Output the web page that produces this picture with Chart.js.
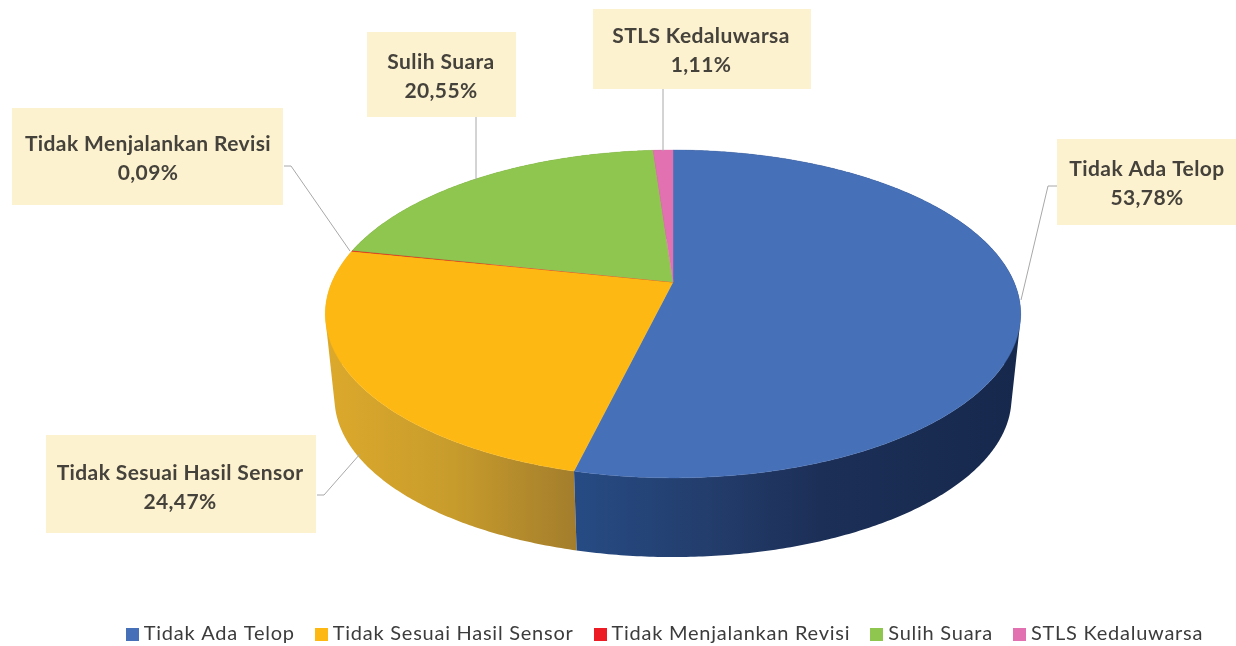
<!DOCTYPE html>
<html>
<head>
<meta charset="utf-8">
<style>html,body{margin:0;padding:0;background:#fff}canvas{display:block}</style>
<script src="https://cdn.jsdelivr.net/npm/chart.js@4/dist/chart.umd.min.js"></script>
</head>
<body>
<canvas id="c" width="1236" height="646"></canvas>
<script>
const categories = ["Tidak Ada Telop","Tidak Sesuai Hasil Sensor","Tidak Menjalankan Revisi","Sulih Suara","STLS Kedaluwarsa"];
const values = [53.78,24.47,0.09,20.55,1.11];
const valueLabels = ["53,78%","24,47%","0,09%","20,55%","1,11%"];
const colors = ["#4670b7","#fdb813","#ed1c24","#8fc64f","#e271b2"];

// callout layout: box [x0,y0,x1,y1], text centre, leader polyline
const callouts = [
  {box:[1057,139,1236,225],tx:1147,ty:[169,198],line:[[1057,186],[1048,186],[1021,300]]},
  {box:[46,435,316,533],tx:180,ty:[473,502],line:[[317,495],[324,495],[360,454]]},
  {box:[12,108,283,205],tx:148,ty:[144,173],line:[[284,166],[291,166],[350,251]]},
  {box:[367,32,516,117],tx:441,ty:[62,91],line:[[476,117],[476,180]]},
  {box:[593,9,811,89],tx:701,ty:[36,65],line:[[663,89],[663,151]]}
];
const wallStops = [
  [[0,"#264b84"],[0.3,"#233d6c"],[0.55,"#1c2f57"],[1,"#16284c"]],
  [[0,"#dca92b"],[0.5,"#c89c2c"],[1,"#a37d2c"]],
  [[0,"#a01218"],[1,"#a01218"]],
  [[0,"#5f8535"],[1,"#5f8535"]],
  [[0,"#974b77"],[1,"#974b77"]]
];
// perspective of the tilted disc
const K = 0.195, TOP = {b:341,a:157.7,dy:0}, LOW = {b:332,a:153,dy:85};
const LEGEND_DY=72, LEGEND_DX=-61;
function proj(arc, ang, d){
  const u=Math.cos(ang), v=Math.sin(ang), w=1-K*v;
  return [arc.x + d.b*u/w, arc.y + d.dy + d.a*v/w];
}
function arcPts(arc, s, e, d){
  const n=Math.max(2,Math.ceil((e-s)/0.01)), p=[];
  for(let i=0;i<=n;i++) p.push(proj(arc, s+(e-s)*i/n, d));
  return p;
}
function trace(ctx, pts, move){
  pts.forEach((p,i)=>{ if(i===0&&move) ctx.moveTo(p[0],p[1]); else ctx.lineTo(p[0],p[1]); });
}
function signedArea(q){
  let s=0;
  q.forEach((p,i)=>{ const n=q[(i+1)%q.length]; s+=p[0]*n[1]-n[0]*p[1]; });
  return s;
}
function legendSwatch(col){
  const c=document.createElement('canvas'); c.width=13; c.height=13;
  const x=c.getContext('2d'); x.fillStyle=col; x.fillRect(0,0,13,13);
  return c;
}
const pie3d = {
  id:'pie3d',
  beforeLayout(chart){ chart.ctx.letterSpacing='0.75px'; },
  afterLayout(chart){
    const l=chart.legend; l.top+=LEGEND_DY; l.bottom+=LEGEND_DY; l.left+=LEGEND_DX; l.right+=LEGEND_DX;
  },
  beforeDraw(chart){ chart.ctx.letterSpacing='0.75px'; },
  beforeDatasetDraw(){ return false; },
  afterDatasetsDraw(chart){
    const ctx=chart.ctx, arcs=chart.getDatasetMeta(0).data;
    ctx.save();
    [4,3,2,1,0].forEach(i=>{
      const a=arcs[i], t=arcPts(a,a.startAngle,a.endAngle,TOP), b=arcPts(a,a.startAngle,a.endAngle,LOW);
      const xs=t.concat(b).map(p=>p[0]);
      const g=ctx.createLinearGradient(Math.min(...xs),0,Math.max(...xs),0);
      wallStops[i].forEach(s=>g.addColorStop(s[0],s[1]));
      ctx.fillStyle=g;
      ctx.beginPath();
      for(let j=0;j<t.length-1;j++){
        let q=[t[j],t[j+1],b[j+1],b[j]];
        if(signedArea(q)<0) q=q.reverse();
        trace(ctx,q,true); ctx.closePath();
      }
      ctx.fill();
    });
    arcs.forEach((a,i)=>{
      ctx.beginPath(); ctx.moveTo(a.x,a.y); trace(ctx,arcPts(a,a.startAngle,a.endAngle,TOP),false); ctx.closePath();
      ctx.fillStyle=colors[i]; ctx.fill();
      ctx.strokeStyle=colors[i]; ctx.lineWidth=0.4; ctx.stroke();
    });
    callouts.forEach((c,i)=>{
      ctx.beginPath(); trace(ctx,c.line,true);
      ctx.strokeStyle="#a8a8a8"; ctx.lineWidth=1; ctx.stroke();
      ctx.fillStyle="#fdf2cf";
      ctx.fillRect(c.box[0],c.box[1],c.box[2]-c.box[0],c.box[3]-c.box[1]);
      ctx.fillStyle="#45423c"; ctx.font="bold 21px Lato"; ctx.letterSpacing='0.4px';
      ctx.textAlign="center"; ctx.textBaseline="middle";
      ctx.fillText(categories[i],c.tx,c.ty[0]);
      ctx.fillText(valueLabels[i],c.tx,c.ty[1]);
    });
    ctx.restore();
  }
};
new Chart(document.getElementById('c'),{
  type:'pie',
  data:{labels:categories,datasets:[{data:values,backgroundColor:colors,borderWidth:0}]},
  plugins:[pie3d],
  options:{
    responsive:false,animation:false,
    layout:{padding:{left:110,top:37,bottom:64,right:-110}},
    plugins:{
      tooltip:{enabled:false},
      legend:{position:'bottom',labels:{
        color:"#3c3c3c",font:{family:"Lato",size:20},padding:25,
        usePointStyle:true,pointStyleWidth:3,boxHeight:13,
        generateLabels(chart){
          return Chart.overrides.pie.plugins.legend.labels.generateLabels(chart).map((it,i)=>
            Object.assign(it,{pointStyle:legendSwatch(colors[i])}));
        }
      }}
    }
  }
});
</script>
</body>
</html>
